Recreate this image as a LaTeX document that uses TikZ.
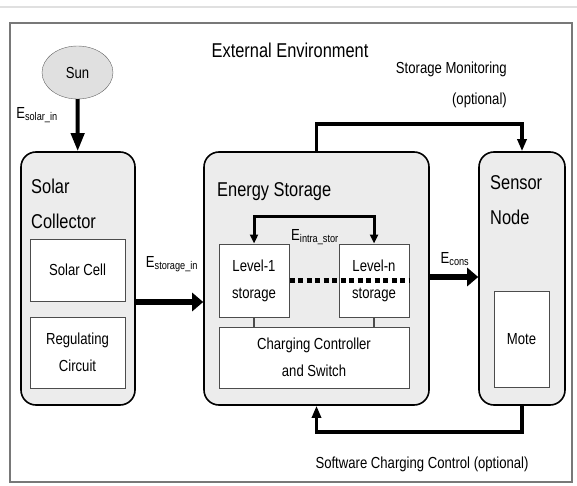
\documentclass[tikz,border=0pt]{standalone}
\usepackage{fontspec}
\setmainfont{Liberation Sans}[FakeStretch=0.82]
\usetikzlibrary{arrows.meta,positioning,shapes.geometric}
\definecolor{boxgray}{RGB}{236,236,236}
\definecolor{framegray}{RGB}{120,120,120}
\definecolor{rulegray}{RGB}{224,224,224}

\begin{document}
\begin{tikzpicture}[x=1pt,y=-1pt,
  block/.style={draw,line width=1.6pt,rounded corners=15pt,fill=boxgray,
                inner sep=0pt,minimum width=#1,minimum height=253pt},
  part/.style={draw=black!70,line width=1pt,fill=white,inner sep=0pt,
                align=center,font=\fontsize{16}{27}\selectfont},
  title/.style={anchor=north west,align=left,inner sep=0pt,
                font=\fontsize{20}{35}\selectfont},
  lbl/.style={font=\fontsize{16}{31}\selectfont,inner sep=0pt},
  bigarrow/.style={-{Triangle[length=11pt,width=18pt]},line width=6.5pt},
  ctrl/.style={-{Triangle[length=12pt,width=9pt]},line width=3.5pt},
]
\useasboundingbox (0,0) rectangle (577,486);
\draw[rulegray,line width=1.5pt] (0,7) -- (577,7);
\draw[framegray,line width=1.4pt] (10,23) rectangle (572,482);

% Environment
\node[font=\fontsize{20}{24}\selectfont] (env) at (290,50) {External Environment};
\node[ellipse,draw=black!60,fill=boxgray!95!black,minimum width=71pt,
      minimum height=53pt,inner sep=0pt,font=\fontsize{16}{20}\selectfont]
  (sun) at (77.5,72.5) {Sun};

% Blocks
\node[block=114pt] (collector) at (78,278.5) {};
\node[block=225pt] (storage)   at (316.5,278.5) {};
\node[block=86pt]  (sensor)    at (522,278.5) {};
\node[title] (coltitle) at (31,179) {Solar\\Collector};
\node[title] (stotitle) at (217,182) {Energy Storage};
\node[title] (sentitle) at (490,175) {Sensor\\Node};

% Parts
\node[part,minimum width=95pt,minimum height=62pt]  (cell)  at (77.5,270)   {Solar Cell};
\node[part,minimum width=95pt,minimum height=71pt]  (reg)   at (77.5,352.5) {Regulating\\Circuit};
\node[part,minimum width=70pt,minimum height=73pt]  (lvl1)  at (254,280.5)  {Level-1\\storage};
\node[part,minimum width=70pt,minimum height=73pt]  (lvln)  at (374,280.5)  {Level-n\\storage};
\node[part,minimum width=190pt,minimum height=61pt] (charge) at (314,357.5) {Charging Controller\\and Switch};
\node[part,minimum width=55pt,minimum height=96pt]  (mote)  at (521.5,339)  {Mote};

% Energy flows
\draw[-{Triangle[length=18pt,width=13pt]},line width=4pt] (sun) -- (collector);
\node[lbl] (esolar) at (37,115) {E\textsubscript{solar\_in}};
\draw[bigarrow] (collector.east |- 0,302) -- (storage.west |- 0,302);
\node[lbl] (estore) at (172,264) {E\textsubscript{storage\_in}};
\draw[bigarrow] (storage.east |- 0,277) -- (sensor.west |- 0,277);
\node[lbl] (econs) at (455,259) {E\textsubscript{cons}};

% Intra storage
\draw[{Triangle[length=9pt,width=8pt]}-{Triangle[length=9pt,width=8pt]},line width=3pt]
  (lvl1.north) -- ++(0,-27) -| (lvln.north);
\node[lbl] (eintra) at (315,237) {E\textsubscript{intra\_stor}};
\draw[line width=5.5pt,dash pattern=on 5pt off 3.5pt] (lvl1.east) -- (lvln.east);
\draw[black!70,line width=1.5pt] (lvl1.south) -- (lvl1.south |- charge.north);
\draw[black!70,line width=1.5pt] (lvln.south) -- (lvln.south |- charge.north);

% Control loops
\draw[ctrl] (storage.north) -- ++(0,-27) -| (sensor.north);
\node[lbl,align=right,anchor=north east] (monitor) at (507,62)
  {Storage Monitoring\\(optional)};
\draw[ctrl,{Triangle[length=12pt,width=9pt]}-] (storage.south) -- ++(0,26) -| (sensor.south);
\node[lbl] (swctrl) at (422,464) {Software Charging Control (optional)};
\end{tikzpicture}
\end{document}
